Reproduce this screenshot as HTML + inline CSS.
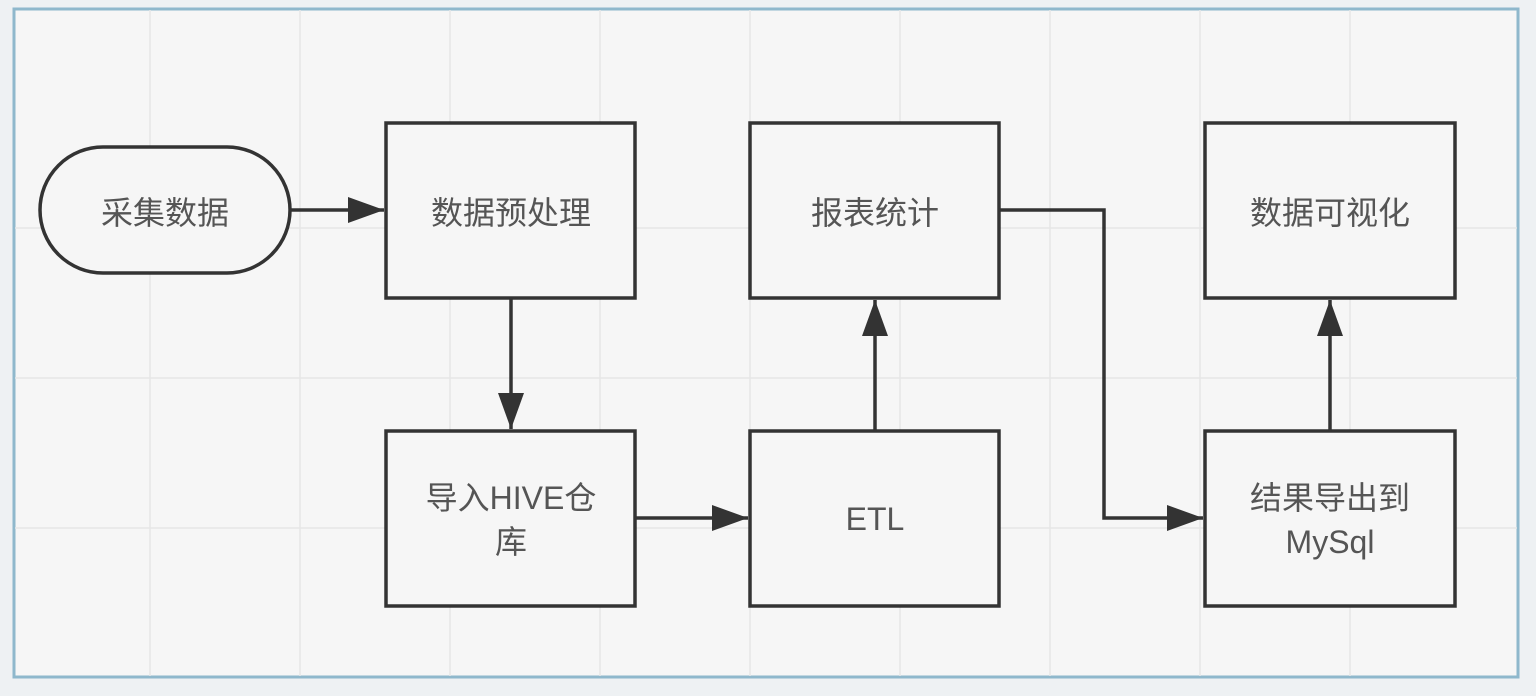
<!DOCTYPE html>
<html><head><meta charset="utf-8"><style>
body{margin:0;width:1536px;height:696px;background:#eef1f3;overflow:hidden}
svg{display:block}
text{font-family:"Liberation Sans","Noto Sans CJK SC",sans-serif;font-size:32px;fill:#555;text-anchor:middle}
</style></head><body>
<svg width="1536" height="696" viewBox="0 0 1536 696">
<defs><marker id="b" markerWidth="36" markerHeight="26" refX="36" refY="13" orient="auto" markerUnits="userSpaceOnUse"><path d="M0,0 L36,13 L0,26z" fill="#333"/></marker></defs>
<rect x="14" y="9" width="1504" height="668" fill="#f6f6f6" stroke="#8fb8cc" stroke-width="3"/>
<g stroke="#e6e6e6" stroke-width="1.5">
<line x1="150" y1="10" x2="150" y2="676"/><line x1="300" y1="10" x2="300" y2="676"/><line x1="450" y1="10" x2="450" y2="676"/><line x1="600" y1="10" x2="600" y2="676"/><line x1="750" y1="10" x2="750" y2="676"/><line x1="900" y1="10" x2="900" y2="676"/><line x1="1050" y1="10" x2="1050" y2="676"/><line x1="1200" y1="10" x2="1200" y2="676"/><line x1="1350" y1="10" x2="1350" y2="676"/>
<line x1="15" y1="228" x2="1517" y2="228"/><line x1="15" y1="378" x2="1517" y2="378"/><line x1="15" y1="528" x2="1517" y2="528"/>
</g>
<g fill="#f6f6f6" stroke="#333" stroke-width="3.5">
<rect x="40" y="147" width="250" height="126" rx="63"/>
<rect x="386" y="123" width="249" height="175"/>
<rect x="750" y="123" width="249" height="175"/>
<rect x="1205" y="123" width="250" height="175"/>
<rect x="386" y="431" width="249" height="175"/>
<rect x="750" y="431" width="249" height="175"/>
<rect x="1205" y="431" width="250" height="175"/>
</g>
<g stroke="#333" stroke-width="3.5" fill="none">
<path d="M290 210 H384" marker-end="url(#b)"/>
<path d="M511 298 V429" marker-end="url(#b)"/>
<path d="M635 518 H748" marker-end="url(#b)"/>
<path d="M875 431 V300" marker-end="url(#b)"/>
<path d="M999 210 H1104 V518 H1203" marker-end="url(#b)"/>
<path d="M1330 431 V300" marker-end="url(#b)"/>
</g>
<text x="165" y="224">采集数据</text>
<text x="511" y="224">数据预处理</text>
<text x="875" y="224">报表统计</text>
<text x="1330" y="224">数据可视化</text>
<text x="511" y="509">导入HIVE仓</text>
<text x="511" y="553">库</text>
<text x="875" y="530">ETL</text>
<text x="1330" y="509">结果导出到</text>
<text x="1330" y="553">MySql</text>
</svg>
</body></html>
